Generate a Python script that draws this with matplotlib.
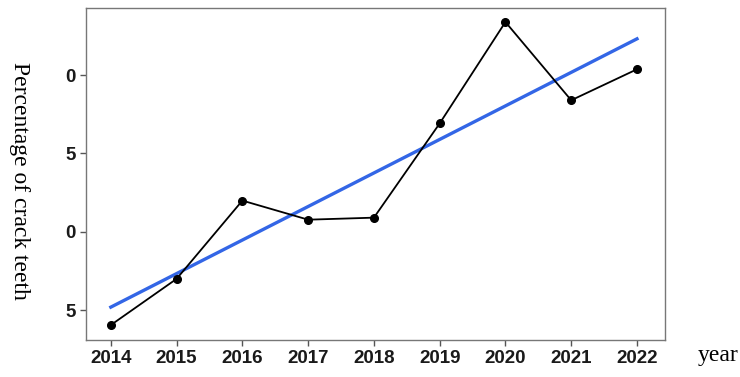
import numpy as np
import matplotlib.pyplot as plt

# data
years = [2014, 2015, 2016, 2017, 2018, 2019, 2020, 2021, 2022]
pct = [4.04, 6.99, 11.99, 10.77, 10.9, 16.92, 23.4, 18.4, 20.38]
ytick_vals = [5, 10, 15, 20]
ytick_text = ["5", "0", "5", "0"]  # as printed (clipped) in the original

fig = plt.figure(figsize=(7.4, 3.77), dpi=100)
ax = fig.add_axes([0.116, 0.098, 0.783, 0.881])

# linear trend
k, b = np.polyfit(years, pct, 1)
xs = np.array([years[0], years[-1]])
ax.plot(xs, k * xs + b, color='#3366e6', lw=2.4, zorder=2)
ax.plot(years, pct, color='black', lw=1.3, marker='o', ms=5.5, zorder=3)

ax.set_xlim(2013.62, 2022.43)
ax.set_ylim(3.08, 24.3)
ax.set_xticks(years)
ax.set_xticklabels([str(y) for y in years], fontweight='bold', fontsize=13.5,
                   family='Liberation Sans', color='#1a1a1a')
ax.set_yticks(ytick_vals)
ax.set_yticklabels(ytick_text, fontweight='bold', fontsize=13.5,
                   family='Liberation Sans', color='#1a1a1a')
ax.tick_params(length=4, width=1, color='#555555', pad=3)
for s in ax.spines.values():
    s.set_color('#777777')
    s.set_linewidth(1.0)

fig.text(0.027, 0.52, "Percentage of crack teeth", rotation=270,
         family='Liberation Serif', fontsize=17, ha='center', va='center')
fig.text(0.97, 0.058, "year", family='Liberation Serif', fontsize=17,
         ha='center', va='center')

fig.savefig('out.png', dpi=100)
